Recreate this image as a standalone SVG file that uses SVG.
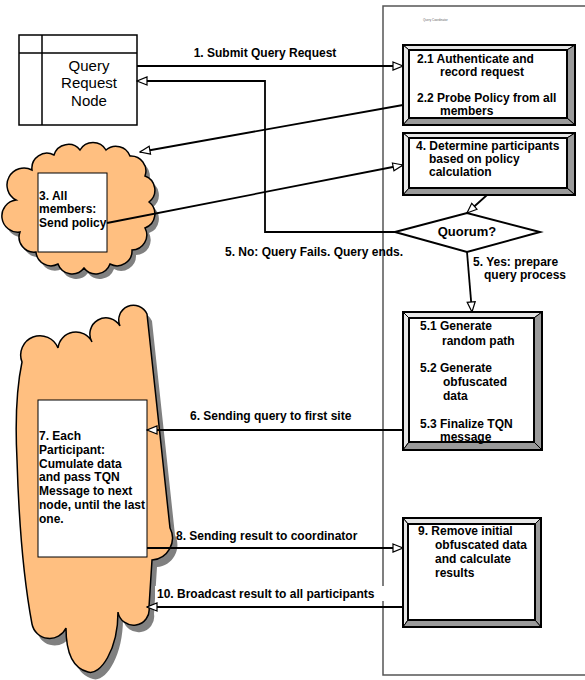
<svg xmlns="http://www.w3.org/2000/svg" width="585" height="680" viewBox="0 0 585 680">
<style>
.t{font-family:"Liberation Sans",Arial,sans-serif;font-weight:bold;font-size:12px;fill:#000}
.n{font-family:"Liberation Sans",Arial,sans-serif;font-size:15px;fill:#000}
.c{fill:none;stroke:#000;stroke-width:1.8}
.ln{fill:none;stroke:#000;stroke-width:1.8}
.cloud{fill:#FFBF80;stroke:#000;stroke-width:1.5}
.shadow{fill:#808080}
.lt{fill:#e6e6e6;stroke:#000;stroke-width:1}
.dk{fill:#9a9a9a;stroke:#000;stroke-width:1}
.in{fill:#fff;stroke:#000;stroke-width:2}
.wb{fill:#fff;stroke:#000;stroke-width:1}
</style>
<defs>
<marker id="ah" markerWidth="12" markerHeight="10" refX="11" refY="5" orient="auto" markerUnits="userSpaceOnUse">
<path d="M1,1 L11,5 L1,9 Z" fill="#fff" stroke="#000" stroke-width="1.2"/>
</marker>
<path id="cloud3" d="M32,170 A15 15 0 0 1 54,155 A15 15 0 0 1 80,150 A15 15 0 0 1 106,150 A15 15 0 0 1 130,156 A15 15 0 0 1 145,176 A15 15 0 0 1 149,202 A15 15 0 0 1 145,228 A15 15 0 0 1 132,250 A15 15 0 0 1 110,264 A15 15 0 0 1 84,268 A15 15 0 0 1 58,264 A15 15 0 0 1 36,252 A15 15 0 0 1 20,232 A15 15 0 0 1 16,200 A15 15 0 0 1 32,170 Z"/>
<path id="cloud7" d="M17,460 Q14,400 22,362 A18 18 0 0 1 58,348 A18 18 0 0 1 92,342 A16 16 0 0 1 120,326 A14 14 0 0 1 147,314 L170,528 A22 22 0 0 1 152,560 L149,607 A15 15 0 0 1 118,612 C118,650 100,676 88,672 C72,668 66,650 66,628 A18 18 0 0 1 32,624 Q20,560 17,460 Z"/>
</defs>
<rect width="585" height="680" fill="#fff"/>
<g id="panel">
<rect x="383" y="6" width="215" height="669" fill="none" stroke="#555" stroke-width="1.5"/>
<text x="423" y="21" font-family="Liberation Sans,sans-serif" font-size="3" fill="#666">Query Coordinator</text>
</g>
<g id="query-request-node">
<rect x="19" y="35" width="118" height="90" fill="#fff" stroke="#000" stroke-width="1.5"/>
<line x1="42" y1="35" x2="42" y2="125" stroke="#000" stroke-width="1.5"/>
<line x1="19" y1="53" x2="137" y2="53" stroke="#000" stroke-width="1.5"/>
<text class="n" x="89" y="71" text-anchor="middle">Query</text>
<text class="n" x="89" y="88" text-anchor="middle">Request</text>
<text class="n" x="89" y="106" text-anchor="middle">Node</text>
</g>
<g id="all-members">
<use href="#cloud3" class="shadow" transform="translate(4,5)"/>
<use href="#cloud3" class="cloud"/>
<rect class="wb" x="38" y="173" width="69" height="79"/>
<text class="t" x="39" y="200">3. All</text>
<text class="t" x="39" y="213">members:</text>
<text class="t" x="39" y="227">Send policy</text>
</g>
<g id="participants">
<use href="#cloud7" class="shadow" transform="translate(5,7)"/>
<use href="#cloud7" class="cloud"/>
<rect class="wb" x="38" y="400" width="109" height="157"/>
<text class="t" x="39" y="440">7. Each</text>
<text class="t" x="39" y="454">Participant:</text>
<text class="t" x="39" y="468">Cumulate data</text>
<text class="t" x="39" y="481">and pass TQN</text>
<text class="t" x="39" y="495">Message to next</text>
<text class="t" x="39" y="509">node, until the last</text>
<text class="t" x="39" y="523">one.</text>
</g>
<g id="connectors">
<path class="c" d="M137,66 H403" marker-end="url(#ah)"/>
<path class="c" d="M395,232 H265 V81 H137" marker-end="url(#ah)"/>
<path class="c" d="M403,105 L140,152" marker-end="url(#ah)"/>
<path class="c" d="M107,223 L403,165" marker-end="url(#ah)"/>
<path class="c" d="M487,195 L467,213" marker-end="url(#ah)"/>
<path class="c" d="M467,252 L472,312" marker-end="url(#ah)"/>
<path class="c" d="M403,430 H147" marker-end="url(#ah)"/>
<path class="c" d="M147,548 H403" marker-end="url(#ah)"/>
<path class="c" d="M403,607 H147" marker-end="url(#ah)"/>
<text class="t" x="265" y="57" text-anchor="middle">1. Submit Query Request</text>
<text class="t" x="225" y="256">5. No: Query Fails. Query ends.</text>
<text class="t" x="473" y="266">5. Yes: prepare</text>
<text class="t" x="484" y="279">query process</text>
<text class="t" x="190" y="420">6. Sending query to first site</text>
<text class="t" x="176" y="540">8. Sending result to coordinator</text>
<rect x="155" y="586" width="230" height="15" fill="#fff"/>
<text class="t" x="157" y="598">10. Broadcast result to all participants</text>
</g>
<g id="box-2">
<polygon class="lt" points="403,45 575,45 567,50 409,50"/>
<polygon class="lt" points="403,45 409,50 409,118 403,125"/>
<polygon class="dk" points="575,45 575,125 567,118 567,50"/>
<polygon class="dk" points="403,125 575,125 567,118 409,118"/>
<rect x="403" y="45" width="172" height="80" fill="none" stroke="#000" stroke-width="2"/>
<rect class="in" x="409" y="50" width="158" height="68"/>
<text class="t" x="417" y="63">2.1 Authenticate and</text>
<text class="t" x="440" y="76">record request</text>
<text class="t" x="417" y="102">2.2 Probe Policy from all</text>
<text class="t" x="440" y="115">members</text>
</g>
<g id="box-4">
<polygon class="lt" points="403,133 575,133 567,138 409,138"/>
<polygon class="lt" points="403,133 409,138 409,188 403,195"/>
<polygon class="dk" points="575,133 575,195 567,188 567,138"/>
<polygon class="dk" points="403,195 575,195 567,188 409,188"/>
<rect x="403" y="133" width="172" height="62" fill="none" stroke="#000" stroke-width="2"/>
<rect class="in" x="409" y="138" width="158" height="50"/>
<text class="t" x="416" y="150">4. Determine participants</text>
<text class="t" x="429" y="163">based on policy</text>
<text class="t" x="429" y="176">calculation</text>
</g>
<g id="quorum">
<polygon points="395,232 467,213 540,232 467,252" fill="#fff" stroke="#000" stroke-width="2"/>
<text class="t" x="467" y="236" text-anchor="middle" style="font-size:13px">Quorum?</text>
</g>
<g id="box-5">
<polygon class="lt" points="403,312 542,312 534,318 409,318"/>
<polygon class="lt" points="403,312 409,318 409,442 403,450"/>
<polygon class="dk" points="542,312 542,450 534,442 534,318"/>
<polygon class="dk" points="403,450 542,450 534,442 409,442"/>
<rect x="403" y="312" width="139" height="138" fill="none" stroke="#000" stroke-width="2"/>
<rect class="in" x="409" y="318" width="125" height="124"/>
<text class="t" x="420" y="330">5.1 Generate</text>
<text class="t" x="442" y="345">random path</text>
<text class="t" x="420" y="372">5.2 Generate</text>
<text class="t" x="443" y="386">obfuscated</text>
<text class="t" x="443" y="400">data</text>
<text class="t" x="420" y="428">5.3 Finalize TQN</text>
<text class="t" x="440" y="441">message</text>
</g>
<g id="box-9">
<polygon class="lt" points="403,518 541,518 535,524 408,524"/>
<polygon class="lt" points="403,518 408,524 408,620 403,627"/>
<polygon class="dk" points="541,518 541,627 535,620 535,524"/>
<polygon class="dk" points="403,627 541,627 535,620 408,620"/>
<rect x="403" y="518" width="138" height="109" fill="none" stroke="#000" stroke-width="2"/>
<rect class="in" x="408" y="524" width="127" height="96"/>
<text class="t" x="418" y="535">9. Remove initial</text>
<text class="t" x="435" y="549">obfuscated data</text>
<text class="t" x="435" y="563">and calculate</text>
<text class="t" x="435" y="577">results</text>
</g>
</svg>
